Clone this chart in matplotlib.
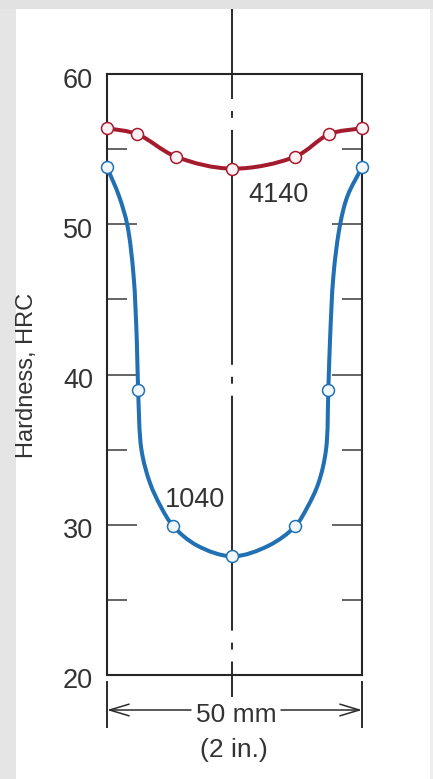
import numpy as np
import matplotlib
matplotlib.use("Agg")
import matplotlib.pyplot as plt
from matplotlib.path import Path
from matplotlib.patches import PathPatch, Rectangle, FancyArrowPatch, ArrowStyle
from matplotlib.transforms import blended_transform_factory, ScaledTranslation

plt.rcParams["font.family"] = ["Liberation Sans", "DejaVu Sans"]
plt.rcParams["lines.scale_dashes"] = False

# ---- data -------------------------------------------------------------
# measured hardness points across the 50 mm bar (position in mm, HRC)
pos_4140 = [0.0, 5.9, 13.5, 24.6, 36.9, 43.6, 50.0]
hrc_4140 = [56.4, 56.0, 54.5, 53.7, 54.5, 56.0, 56.4]

pos_1040 = [0.0, 6.1, 13.0, 24.6, 36.9, 43.4, 50.0]
hrc_1040 = [53.8, 39.0, 29.9, 27.9, 29.9, 39.0, 53.8]

# traced course of the 1040 profile curve between the measured points
curve_1040_pos = [0.0, 2.35, 3.98, 5.20, 5.84, 6.1, 6.76, 8.43, 10.59, 13.0, 17.65,
                  24.6, 31.76, 36.9, 39.31, 41.47, 42.94, 43.4, 43.73, 44.41,
                  45.69, 47.16, 50.0]
curve_1040_hrc = [53.8, 51.88, 49.95, 46.62, 42.30, 39.0, 34.98, 32.78, 31.18, 29.9, 28.62,
                  27.9, 28.62, 29.9, 31.18, 32.78, 34.98, 39.0, 42.30, 46.62,
                  49.95, 51.88, 53.8]

major_ticks = [20, 30, 40, 50, 60]
minor_ticks = [25, 35, 45, 55]
ylabel = "Hardness, HRC"
bar_width_label = "50 mm"
bar_width_label_in = "(2 in.)"

RED = "#a51b2e"
BLUE = "#2170b4"
INK = "#262626"
TEXT = "#333333"

W, H = 433, 779
fig = plt.figure(figsize=(W / 100, H / 100), dpi=100)
fig.patch.set_facecolor("white")

# soft gray page margins
fig.patches.append(Rectangle((0, 0), 16 / W, 1, transform=fig.transFigure,
                             facecolor="#e5e5e5", edgecolor="none", zorder=-5))
fig.patches.append(Rectangle((0, 1 - 9 / H), 1, 9 / H, transform=fig.transFigure,
                             facecolor="#e2e2e2", edgecolor="none", zorder=-5))
fig.patches.append(Rectangle((430 / W, 0), 3 / W, 1 - 9 / H, transform=fig.transFigure,
                             facecolor="#eeeeee", edgecolor="none", zorder=-5))

ax = fig.add_axes([107 / W, 104 / H, 255 / W, 601 / H])
ax.set_xlim(0, 50)
ax.set_ylim(20, 60)
ax.set_facecolor("none")

for sp in ax.spines.values():
    sp.set_linewidth(1.5)
    sp.set_color(INK)

ax.set_xticks([])
ax.set_yticks(major_ticks)
ax.set_yticks(minor_ticks, minor=True)
ax.tick_params(axis="y", which="major", direction="in", length=21.6, width=1.1,
               left=True, right=True, labelsize=19.5, pad=10, color="#3a3a3a",
               labelcolor=TEXT)
ax.tick_params(axis="y", which="minor", direction="in", length=14.4, width=1.1,
               left=True, right=True, color="#3a3a3a")
shift = ScaledTranslation(0, -0.035, fig.dpi_scale_trans)
for lab in ax.get_yticklabels():
    lab.set_transform(lab.get_transform() + shift)


def smooth_path(xs, ys, alpha=0.5):
    """Centripetal Catmull-Rom curve through the points, built in display space."""
    pts = ax.transData.transform(np.column_stack([xs, ys]))
    ext = np.vstack([2 * pts[0] - pts[1], pts, 2 * pts[-1] - pts[-2]])
    verts = [pts[0]]
    codes = [Path.MOVETO]
    for i in range(1, len(pts)):
        p0, p1, p2, p3 = ext[i - 1], ext[i], ext[i + 1], ext[i + 2]
        t01 = np.linalg.norm(p1 - p0) ** alpha
        t12 = np.linalg.norm(p2 - p1) ** alpha
        t23 = np.linalg.norm(p3 - p2) ** alpha
        m1 = (p2 - p1) + t12 * ((p1 - p0) / t01 - (p2 - p0) / (t01 + t12))
        m2 = (p2 - p1) + t12 * ((p3 - p2) / t23 - (p3 - p1) / (t12 + t23))
        verts += [p1 + m1 / 3.0, p2 - m2 / 3.0, p2]
        codes += [Path.CURVE4] * 3
    verts = ax.transData.inverted().transform(np.array(verts))
    return Path(verts, codes)


# vertical center line (dash-dot) running through the bar axis
blend = blended_transform_factory(ax.transData, ax.transAxes)
center = pos_1040[3]
ax.plot([center, center], [(675 - 9) / 601, (675 - 697) / 601], transform=blend,
        clip_on=False, color="#2b2b2b", lw=1.4, zorder=1,
        linestyle=(104.4, (169.2, 8.6, 5.0, 8.6)))

# hardness profiles
ax.add_patch(PathPatch(smooth_path(pos_4140, hrc_4140), facecolor="none",
                       edgecolor=RED, lw=2.9, zorder=3, capstyle="round",
                       clip_on=False))
ax.plot(pos_4140, hrc_4140, "o", ms=8.6, mfc="#fdf2f3", mec=RED, mew=1.1,
        zorder=4, clip_on=False)

ax.add_patch(PathPatch(smooth_path(curve_1040_pos, curve_1040_hrc), facecolor="none",
                       edgecolor=BLUE, lw=2.9, zorder=3, capstyle="round",
                       clip_on=False))
ax.plot(pos_1040, hrc_1040, "o", ms=8.6, mfc="#f2f7fc", mec=BLUE, mew=1.1,
        zorder=4, clip_on=False)

ax.text(27.65, 51.48, "4140", fontsize=19.5, color=TEXT, ha="left",
        va="baseline", zorder=5)
ax.text(11.37, 31.18, "1040", fontsize=19.5, color=TEXT, ha="left",
        va="baseline", zorder=5)

fig.text(27 / W, 1 - 375 / H, ylabel, rotation=90, ha="center", va="center",
         fontsize=17, color=TEXT)

# width dimension below the bar
for xb in (0, 50):
    ax.plot([xb, xb], [(675 - 682) / 601, (675 - 727) / 601], transform=blend,
            clip_on=False, color="#2b2b2b", lw=1.4)

ay = 1 - 710 / H
style = ArrowStyle("->", head_length=14, head_width=4.2)
for xa, xb in ((191, 107), (281, 362)):
    fig.patches.append(FancyArrowPatch((xa / W, ay), (xb / W, ay), transform=fig.transFigure,
                                       arrowstyle=style, mutation_scale=1, lw=1.1,
                                       color="#2b2b2b", shrinkA=0, shrinkB=0))

fig.text(236 / W, 1 - 722 / H, bar_width_label, ha="center", va="baseline",
         fontsize=19, color=TEXT)
fig.text(234 / W, 1 - 757 / H, bar_width_label_in, ha="center", va="baseline",
         fontsize=19, color=TEXT)

fig.savefig("out.png", dpi=100)
